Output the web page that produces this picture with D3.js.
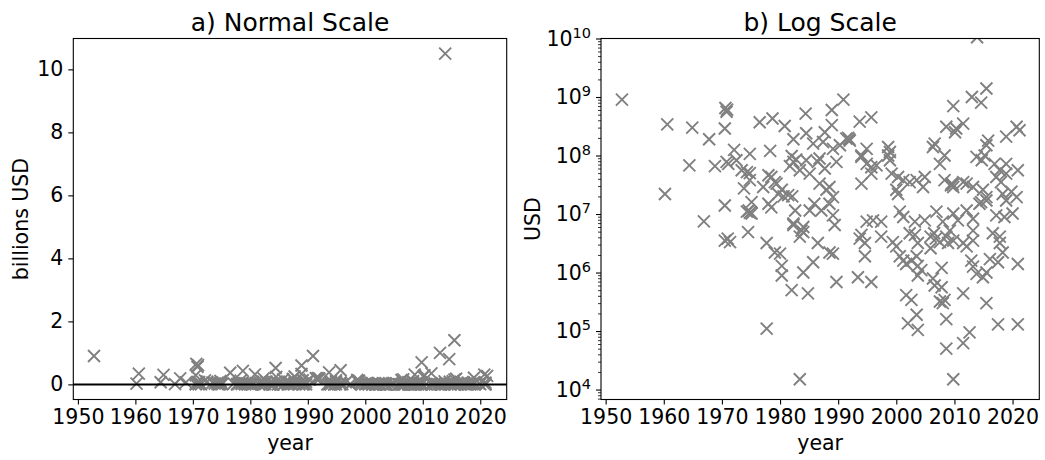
<!DOCTYPE html>
<meta charset="utf-8">
<script src="https://d3js.org/d3.v7.min.js"></script>
<style>
  body { margin: 0; background: #fff; }
  text { font-family: "DejaVu Sans", sans-serif; fill: #000; }
  .tick line { stroke: #000; stroke-width: 1.1px; }
  path.mark { fill: none; stroke: #808080; stroke-width: 1.9px; }
  rect.frame { fill: none; stroke: #000; stroke-width: 1.1px; }
</style>
<body>
<script>
  // data: year of each deal and its value in USD
  var years = [
    1952.8, 1960.6, 1960.2, 1964.9, 1964.4, 1967.8, 1966.9, 1970.6, 1970.8, 1970.9,
    1970.5, 1968.8, 1970.5, 1972.1, 1970.8, 1971.1, 1972.5, 1974.8, 1973.4, 1974.3,
    1974.8, 1974.8, 1973.8, 1975.1, 1974.3, 1974.8, 1975.1, 1974.6, 1976.5, 1978.7,
    1980.8, 1978.3, 1982.3, 1984.4, 1984.5, 1982.0, 1982.8, 1982.3, 1981.7, 1978.0,
    1978.5, 1979.1, 1979.4, 1977.1, 1980.3, 1979.7, 1981.4, 1980.6, 1982.1, 1978.0,
    1978.5, 1982.6, 1982.3, 1984.0,
    2013.9, 2015.5, 2013.0, 2014.6, 2009.8, 1990.9, 1988.9, 1993.7, 1995.7, 1988.9,
    1987.7, 1991.4, 1992.0, 1991.7, 1991.9, 1985.7, 1987.4, 1989.1, 1990.3, 1994.9,
    1994.0, 1998.6, 1998.9, 2006.6, 2006.3, 2008.6, 2010.3, 2011.5, 2010.1, 2018.9,
    2020.7, 2021.2, 2015.8, 2015.5, 1984.5, 1986.8, 1986.5, 1989.7, 1983.4, 1985.1,
    1987.7, 1994.9, 1995.7, 1996.6, 1994.0, 1994.0, 1995.7, 1998.6, 1998.9, 1999.2,
    2000.3, 2001.2, 2002.3, 2003.5, 2004.9, 2000.0, 2000.3, 2004.6, 2008.3, 2007.5,
    2008.3, 2009.5, 2009.8, 2011.5, 2009.4, 2009.7, 2012.1, 2013.2, 2013.8, 2014.7,
    2015.2, 2016.9, 2017.8, 2018.9, 2020.9, 2017.2, 2018.0, 2018.9, 2014.9, 2014.6,
    2015.5, 2018.3, 2019.8, 2018.9, 2020.7, 1986.8, 1988.0, 1988.5, 1989.1, 1987.1,
    1989.1, 1988.5, 1985.1, 1985.9, 1994.9, 1996.0, 1997.4, 2000.6, 2001.2, 2003.2,
    2004.9, 2006.9, 2008.0, 2009.8, 2010.6, 2012.1, 2013.2, 2014.3, 2015.5, 2017.2,
    2018.6, 2020.0,
    1989.4, 1984.0, 1986.5, 1988.5, 1989.1, 1985.7, 1984.0, 1989.7, 1984.8, 1983.4,
    1994.0, 1993.7, 1994.6, 1994.6, 1997.4, 1999.4, 2000.0, 2000.6, 2001.2, 2001.7,
    2002.3, 2003.2, 2003.7, 2003.5, 2002.6, 2003.7, 2004.3, 2003.7, 1993.4, 1995.7,
    2001.7, 2002.6, 2003.5, 2002.0, 2003.7, 2005.9, 2006.8, 2006.5, 2005.9, 2007.5,
    2008.6, 2007.8, 2006.3, 2006.6, 2007.8, 2007.5, 2008.3, 2008.0, 2008.6, 2008.6,
    2009.8, 2011.5, 2012.6, 2011.5, 2015.5, 2017.5, 2020.9, 2020.9, 2009.2, 2009.8,
    2008.9, 2011.5, 2012.1, 2013.2, 2012.9, 2013.2, 2013.8, 2014.9, 2015.5, 2016.6,
    2017.8, 2017.8, 2018.3, 2017.5, 2016.1, 2013.2,
    1970.5, 1971.0, 1971.4, 1974.5, 1977.7, 1979.1, 1980.0, 1980.3, 1980.3, 1982.0,
    1982.3, 1983.7, 1983.4, 1977.7
  ];
  var usd = [
    9e8, 3.4e8, 2.2e7, 3.0e8, 6.8e7, 1.9e8, 7.5e6, 6.5e8, 5.6e8, 6.1e8,
    2.9e8, 6.6e7, 1.4e7, 1.25e8, 7.8e7, 7.2e7, 8.3e7, 1.07e8, 5.6e7, 5.2e7,
    5.0e7, 3.8e7, 2.75e7, 1.6e7, 1.1e7, 1.05e7, 1.02e7, 1.15e7, 3.7e8, 4.3e8,
    3.2e8, 1.2e8, 1.9e8, 5.2e8, 2.4e8, 9.8e7, 8.5e7, 7.8e7, 6.6e7, 4.6e7,
    4.3e7, 3.5e7, 3.3e7, 2.9e7, 2.6e7, 2.2e7, 2.1e7, 2.0e7, 2.0e7, 1.5e7,
    1.3e7, 1.15e7, 6.9e6, 6.0e6,
    1.05e10, 1.4e9, 1.0e9, 8e8, 7e8, 9e8, 6e8, 3.8e8, 4.5e8, 3.3e8,
    2.5e8, 1.95e8, 1.8e8, 2.0e8, 1.9e8, 1.6e8, 1.7e8, 1.3e8, 1.5e8, 1.3e8,
    1.0e8, 1.4e8, 1.15e8, 1.6e8, 1.4e8, 3.1e8, 2.9e8, 3.5e8, 2.5e8, 2.1e8,
    3.1e8, 2.7e8, 1.8e8, 1.5e8, 8.3e7, 8.9e7, 7.8e7, 7.8e7, 5.6e7, 4.9e7,
    6.0e7, 7.2e7, 6.3e7, 6.8e7, 9.5e7, 3.3e7, 4.9e7, 1.0e8, 8.3e7, 4.9e7,
    4.3e7, 3.8e7, 3.5e7, 3.8e7, 4.3e7, 2.6e7, 2.2e7, 2.9e7, 1.0e8, 7.2e7,
    3.8e7, 3.3e7, 2.9e7, 3.5e7, 3.1e7, 3.2e7, 3.3e7, 2.9e7, 9.5e7, 8.3e7,
    1.0e8, 7.2e7, 5.6e7, 7.2e7, 5.6e7, 4.3e7, 3.5e7, 4.9e7, 2.6e7, 1.6e7,
    1.95e7, 2.2e7, 2.4e7, 1.7e7, 1.95e7, 3.3e7, 2.6e7, 2.9e7, 1.95e7, 1.15e7,
    9.5e6, 1.5e7, 1.15e7, 1.5e7, 7.4e6, 7.8e6, 7.4e6, 1.1e7, 8.9e6, 7.4e6,
    7.8e6, 1.1e7, 7.4e6, 1.02e7, 7.8e6, 1.15e7, 8.3e6, 1.5e7, 1.7e7, 9.5e6,
    8.9e6, 1.02e7,
    6.5e6, 4.9e6, 3.2e6, 2.2e6, 2.1e6, 1.5e6, 1.0e6, 6.9e5, 4.4e5, 1.5e4,
    4.4e6, 3.8e6, 3.2e6, 1.9e6, 4.1e6, 3.3e6, 2.8e6, 1.9e6, 1.6e6, 1.4e6,
    4.7e6, 4.4e6, 3.2e6, 1.9e6, 1.6e6, 1.3e6, 1.1e6, 8.9e5, 8.3e5, 6.9e5,
    4.1e5, 3.4e5, 1.9e5, 1.35e5, 1.05e5, 4.1e6, 3.8e6, 4.7e6, 2.6e6, 3.3e6,
    4.1e6, 1.2e6, 7.9e5, 6.0e5, 5.6e5, 3.2e5, 3.4e5, 3.0e5, 1.6e5, 5.0e4,
    1.5e4, 4.4e5, 9.5e4, 6.2e4, 3.0e5, 1.3e5, 1.3e5, 1.4e6, 5.2e6, 3.5e6,
    3.2e6, 3.2e6, 2.8e6, 3.5e6, 1.6e6, 1.26e6, 9.5e5, 8.3e5, 1.0e6, 4.7e6,
    4.1e6, 3.2e6, 2.2e6, 1.5e6, 1.7e6, 5.2e6,
    3.5e6, 3.8e6, 3.3e6, 4.9e6, 3.2e6, 2.2e6, 2.1e6, 1.3e6, 8.9e5, 5.0e5,
    6.5e6, 5.2e6, 4.1e6, 1.1e5
  ];

  var yearTicks = [1950, 1960, 1970, 1980, 1990, 2000, 2010, 2020];
  var billionTicks = [0, 2, 4, 6, 8, 10];
  var logTicks = [1e4, 1e5, 1e6, 1e7, 1e8, 1e9, 1e10];

  var points = years.map(function (y, i) {
    return { year: y, value: usd[i] };
  });

  var width = 1045,
    height = 460,
    plotTop = 38.5,
    plotBottom = 399.5,
    tickFont = "20.5px";

  var svg = d3.select("body").append("svg")
    .attr("width", width)
    .attr("height", height);

  // scales
  var xL = d3.scaleLinear().domain([1949.2, 2024.6]).range([73.3, 506.7]);
  var yL = d3.scaleLinear().domain([-0.48, 10.98]).range([plotBottom, plotTop]);
  var xR = d3.scaleLinear().domain([1949.2, 2024.6]).range([601, 1039.3]);
  var yR = d3.scaleLog().domain([Math.pow(10, 3.83), 1e10]).range([plotBottom, plotTop]);

  var xMark = "M-6,-6L6,6M-6,6L6,-6";

  function addClip(id, x0, x1) {
    svg.append("clipPath").attr("id", id)
      .append("rect")
      .attr("x", x0).attr("y", plotTop)
      .attr("width", x1 - x0).attr("height", plotBottom - plotTop);
  }
  addClip("clipL", xL.range()[0], xL.range()[1]);
  addClip("clipR", xR.range()[0], xR.range()[1]);

  // a) normal scale
  svg.append("g")
    .attr("clip-path", "url(#clipL)")
    .selectAll("path")
    .data(points)
    .enter().append("path")
    .attr("class", "mark")
    .attr("d", xMark)
    .attr("transform", function (d) {
      return "translate(" + xL(d.year) + "," + yL(d.value / 1e9) + ")";
    });

  svg.append("line")
    .attr("x1", xL.range()[0]).attr("x2", xL.range()[1])
    .attr("y1", yL(0)).attr("y2", yL(0))
    .style("stroke", "#000")
    .style("stroke-width", 2);

  // b) log scale
  svg.append("g")
    .attr("clip-path", "url(#clipR)")
    .selectAll("path")
    .data(points)
    .enter().append("path")
    .attr("class", "mark")
    .attr("d", xMark)
    .attr("transform", function (d) {
      return "translate(" + xR(d.year) + "," + yR(d.value) + ")";
    });

  // axes
  svg.append("g")
    .attr("transform", "translate(0," + plotBottom + ")")
    .call(d3.axisBottom(xL).tickValues(yearTicks).tickFormat(d3.format("d"))
      .tickSize(5).tickPadding(5).tickSizeOuter(0));

  svg.append("g")
    .attr("transform", "translate(" + xL.range()[0] + ",0)")
    .call(d3.axisLeft(yL).tickValues(billionTicks)
      .tickSize(5).tickPadding(5).tickSizeOuter(0));

  svg.append("g")
    .attr("transform", "translate(0," + plotBottom + ")")
    .call(d3.axisBottom(xR).tickValues(yearTicks).tickFormat(d3.format("d"))
      .tickSize(5).tickPadding(5).tickSizeOuter(0));

  // minor log ticks
  var minor = [];
  for (var k = 3; k <= 9; k++) {
    for (var m = 2; m <= 9; m++) {
      var v = m * Math.pow(10, k);
      if (v >= yR.domain()[0] && v <= yR.domain()[1]) minor.push(v);
    }
  }
  svg.append("g")
    .attr("transform", "translate(" + xR.range()[0] + ",0)")
    .call(d3.axisLeft(yR).tickValues(minor).tickFormat("").tickSize(3).tickSizeOuter(0))
    .selectAll(".tick line").style("stroke-width", "0.8px");

  var logAxis = svg.append("g")
    .attr("transform", "translate(" + xR.range()[0] + ",0)")
    .call(d3.axisLeft(yR).tickValues(logTicks).tickFormat("")
      .tickSize(5).tickPadding(5).tickSizeOuter(0));

  logAxis.selectAll(".tick text").each(function (d) {
    var t = d3.select(this);
    t.append("tspan").text("10");
    t.append("tspan")
      .attr("dy", "-8")
      .style("font-size", "14.5px")
      .text(Math.round(Math.log10(d)));
  });

  svg.selectAll(".domain").remove();
  svg.selectAll(".tick text")
    .style("font-family", "'DejaVu Sans', sans-serif")
    .style("font-size", tickFont);

  // frames
  svg.append("rect").attr("class", "frame")
    .attr("x", xL.range()[0]).attr("y", plotTop)
    .attr("width", xL.range()[1] - xL.range()[0]).attr("height", plotBottom - plotTop);
  svg.append("rect").attr("class", "frame")
    .attr("x", xR.range()[0]).attr("y", plotTop)
    .attr("width", xR.range()[1] - xR.range()[0]).attr("height", plotBottom - plotTop);

  // titles and labels
  var midL = (xL.range()[0] + xL.range()[1]) / 2,
    midR = (xR.range()[0] + xR.range()[1]) / 2,
    midY = (plotTop + plotBottom) / 2;

  svg.append("text").attr("x", midL).attr("y", 31)
    .attr("text-anchor", "middle").style("font-size", "25px")
    .text("a) Normal Scale");
  svg.append("text").attr("x", midR).attr("y", 31)
    .attr("text-anchor", "middle").style("font-size", "25px")
    .text("b) Log Scale");

  svg.append("text").attr("x", midL).attr("y", 450)
    .attr("text-anchor", "middle").style("font-size", "20.5px")
    .text("year");
  svg.append("text").attr("x", midR).attr("y", 450)
    .attr("text-anchor", "middle").style("font-size", "20.5px")
    .text("year");

  svg.append("text")
    .attr("transform", "translate(28," + midY + ") rotate(-90)")
    .attr("text-anchor", "middle").style("font-size", "20.5px")
    .text("billions USD");
  svg.append("text")
    .attr("transform", "translate(540," + midY + ") rotate(-90)")
    .attr("text-anchor", "middle").style("font-size", "20.5px")
    .text("USD");
</script>
</body>
